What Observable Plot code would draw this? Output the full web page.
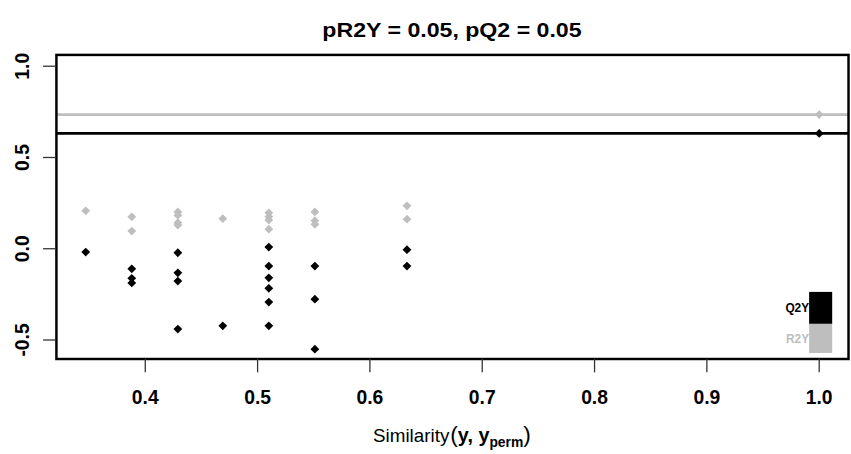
<!DOCTYPE html>
<html>
<head>
<meta charset="utf-8">
<script src="https://cdn.jsdelivr.net/npm/d3@7"></script>
<script src="https://cdn.jsdelivr.net/npm/@observablehq/plot@0.6"></script>
<style>
  html, body { margin: 0; padding: 0; background: #fff; overflow: hidden; }
  #chart { position: relative; width: 851px; height: 454px; overflow: hidden; }
</style>
</head>
<body>
<div id="chart"></div>
<script>
// ---- data ----
const titleText = "pR2Y = 0.05, pQ2 = 0.05";
const seriesNames = ["Q2Y", "R2Y"];

// R2Y (grey) : similarity and value
const r2ySim = [0.347, 0.388, 0.388, 0.429, 0.429, 0.429, 0.429, 0.469,
                0.510, 0.510, 0.510, 0.510, 0.551, 0.551, 0.551, 0.633, 0.633, 1.0];
const r2yVal = [0.208, 0.175, 0.097, 0.202, 0.184, 0.143, 0.130, 0.165,
                0.197, 0.175, 0.157, 0.107, 0.202, 0.154, 0.134, 0.235, 0.162, 0.735];

// Q2Y (black) : similarity and value
const q2ySim = [0.347, 0.388, 0.388, 0.388, 0.429, 0.429, 0.429, 0.429, 0.469,
                0.510, 0.510, 0.510, 0.510, 0.510, 0.510, 0.551, 0.551, 0.551, 0.633, 0.633, 1.0];
const q2yVal = [-0.018, -0.110, -0.162, -0.187, -0.022, -0.132, -0.177, -0.440, -0.422,
                0.009, -0.095, -0.159, -0.217, -0.292, -0.422, -0.095, -0.276, -0.550, -0.005, -0.095, 0.632];

const xTicks = [0.4, 0.5, 0.6, 0.7, 0.8, 0.9, 1.0];
const yTicks = [-0.5, 0.0, 0.5, 1.0];

// ---- build ----
const r2yRows = r2ySim.map((s, i) => ({sim: s, val: r2yVal[i]}));
const q2yRows = q2ySim.map((s, i) => ({sim: s, val: q2yVal[i]}));
const r2yOrig = r2yRows.filter(d => d.sim === 1.0).map(d => d.val);
const q2yOrig = q2yRows.filter(d => d.sim === 1.0).map(d => d.val);

const GREY = "#bebebe";
const FONT = "'Liberation Sans', Arial, Helvetica, sans-serif";
const fmt = d => d.toFixed(1);

const W = 860, H = 454;
const mL = 56.5, mR = 3, mT = 55, mB = 91.7;

const svg = Plot.plot({
  width: W,
  height: H,
  marginLeft: mL,
  marginRight: mR,
  marginTop: mT,
  marginBottom: mB,
  style: {fontFamily: FONT, background: "#fff", color: "#000", overflow: "visible"},
  x: {domain: [0.3209, 1.0261]},
  y: {domain: [-0.604, 1.062]},
  marks: [
    Plot.dot(r2yRows, {x: "sim", y: "val", symbol: "diamond2", r: 4, fill: GREY, stroke: "none"}),
    Plot.dot(q2yRows, {x: "sim", y: "val", symbol: "diamond2", r: 4, fill: "#000", stroke: "none"}),
    Plot.ruleY(r2yOrig, {stroke: GREY, strokeWidth: 2.6}),
    Plot.ruleY(q2yOrig, {stroke: "#000", strokeWidth: 2.6}),
    Plot.frame({stroke: "#000", strokeWidth: 2.5}),
    Plot.axisX(xTicks, {
      tickSize: 14, tickPadding: 18, tickFormat: fmt, label: null,
      fontSize: 19.5, fontWeight: "bold", stroke: "#333", strokeWidth: 1.3
    }),
    Plot.axisY(yTicks, {
      tickSize: 13, tickPadding: 15, tickRotate: -90, tickFormat: fmt, label: null,
      fontSize: 19.5, fontWeight: "bold", stroke: "#333", strokeWidth: 1.3
    })
  ]
});

document.getElementById("chart").appendChild(svg);

// ---- title, x label, legend ----
const g = d3.select(svg);
const cx = (mL + (W - mR)) / 2;

g.append("text")
  .attr("x", cx).attr("y", 37.7)
  .attr("text-anchor", "middle")
  .attr("font-family", FONT)
  .attr("font-weight", "bold")
  .attr("font-size", 19.5)
  .attr("textLength", 262)
  .attr("lengthAdjust", "spacingAndGlyphs")
  .attr("fill", "#000")
  .text(titleText);

const xl = g.append("text")
  .attr("x", cx).attr("y", 446.7)
  .attr("text-anchor", "middle")
  .attr("font-family", FONT)
  .attr("font-size", 19)
  .attr("fill", "#000");
xl.append("tspan").text("Similarity");
xl.append("tspan").attr("font-size", 23).attr("dx", 1).text("(");
xl.append("tspan").attr("font-weight", "bold").attr("font-size", 20).text("y, y");
xl.append("tspan").attr("font-weight", "bold").attr("font-size", 14).attr("dy", 5).text("perm");
xl.append("tspan").attr("font-size", 23).attr("dy", -5).text(")");

// legend (bottom right)
const legX = 817.7, legW = 23.3;
const legItems = [
  {name: seriesNames[0], color: "#000", y0: 295, y1: 327.3},
  {name: seriesNames[1], color: GREY, y0: 327.3, y1: 356.7}
];
const lg = g.append("g");
legItems.forEach(d => {
  lg.append("rect")
    .attr("x", legX).attr("y", d.y0)
    .attr("width", legW).attr("height", d.y1 - d.y0)
    .attr("fill", d.color);
  lg.append("text")
    .attr("x", legX).attr("y", (d.y0 + d.y1) / 2 + 4.3)
    .attr("text-anchor", "end")
    .attr("font-family", FONT)
    .attr("font-size", 12)
    .attr("font-weight", "bold")
    .attr("fill", d.color)
    .text(d.name);
});
</script>
</body>
</html>
